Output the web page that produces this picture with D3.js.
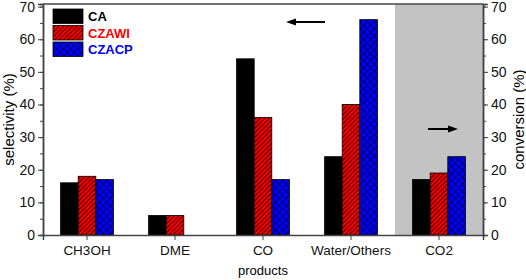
<!DOCTYPE html>
<html>
<head>
<meta charset="utf-8">
<script src="https://cdn.jsdelivr.net/npm/d3@7"></script>
<style>
  body { margin: 0; background: #fff; }
  text { font-family: "Liberation Sans", Arial, sans-serif; }
</style>
</head>
<body>
<div id="chart"></div>
<script>
const products = ["CH3OH", "DME", "CO", "Water/Others", "CO2"];
const seriesNames = ["CA", "CZAWI", "CZACP"];
const caValues = [16, 6, 54, 24, 17];
const czawiValues = [18, 6, 36, 40, 19];
const czacpValues = [17, 0, 17, 66, 24];
const yTicks = [0, 10, 20, 30, 40, 50, 60, 70];

const width = 526, height = 280;
const margin = { top: 4, right: 43, bottom: 45, left: 43 };
const plotW = width - margin.left - margin.right;
const plotH = height - margin.top - margin.bottom;

const seriesValues = { CA: caValues, CZAWI: czawiValues, CZACP: czacpValues };
const fills = { CA: "#000", CZAWI: "url(#hatch-red)", CZACP: "url(#hatch-blue)" };
const textColors = { CA: "#000", CZAWI: "#ff0000", CZACP: "#0000ff" };

const svg = d3.select("#chart").append("svg")
    .attr("width", width)
    .attr("height", height);

const defs = svg.append("defs");
const red = defs.append("pattern")
    .attr("id", "hatch-red")
    .attr("patternUnits", "userSpaceOnUse")
    .attr("width", 3.2).attr("height", 3.2)
    .attr("patternTransform", "rotate(45)");
red.append("rect").attr("width", 3.2).attr("height", 3.2).attr("fill", "#ff0000");
red.append("line").attr("x1", 1.6).attr("y1", 0).attr("x2", 1.6).attr("y2", 3.2)
    .attr("stroke", "#000").attr("stroke-width", 0.8);

const blue = defs.append("pattern")
    .attr("id", "hatch-blue")
    .attr("patternUnits", "userSpaceOnUse")
    .attr("width", 5).attr("height", 5)
    .attr("patternTransform", "rotate(45)");
blue.append("rect").attr("width", 5).attr("height", 5).attr("fill", "#0000ff");
blue.append("line").attr("x1", 2.5).attr("y1", 0).attr("x2", 2.5).attr("y2", 5)
    .attr("stroke", "#000").attr("stroke-width", 0.6);
blue.append("line").attr("x1", 0).attr("y1", 2.5).attr("x2", 5).attr("y2", 2.5)
    .attr("stroke", "#000").attr("stroke-width", 0.6);

const g = svg.append("g").attr("transform", `translate(${margin.left},${margin.top})`);

const x = d3.scaleBand().domain(products).range([0, plotW]).paddingInner(0.4).paddingOuter(0.2);
const xs = d3.scaleBand().domain(seriesNames).range([0, x.bandwidth()]);
const y = d3.scaleLinear().domain([0, 70.8]).range([plotH, 0]);

// gray conversion region
const grayStart = x("CO2") - x.step() * x.paddingInner() / 2;
g.append("rect")
    .attr("x", grayStart).attr("y", 0)
    .attr("width", plotW - grayStart).attr("height", plotH)
    .attr("fill", "#c3c3c3");

// bars
const groups = g.selectAll(".group").data(products).join("g")
    .attr("class", "group")
    .attr("transform", d => `translate(${x(d)},0)`);

groups.selectAll("rect")
    .data((d, i) => seriesNames.map(s => ({ s, v: seriesValues[s][i] })).filter(e => e.v > 0))
    .join("rect")
    .attr("x", d => xs(d.s))
    .attr("y", d => y(d.v))
    .attr("width", xs.bandwidth())
    .attr("height", d => y(0) - y(d.v))
    .attr("fill", d => fills[d.s])
    .attr("stroke", "#000")
    .attr("stroke-width", 0.8);

// axes
const axisColor = "#444";
const minor = d3.range(0, 71, 5);

const left = g.append("g").call(d3.axisLeft(y).tickValues(yTicks).tickSize(5).tickPadding(3));
const right = g.append("g").attr("transform", `translate(${plotW},0)`)
    .call(d3.axisRight(y).tickValues(yTicks).tickSize(5).tickPadding(3));
const leftMinor = g.append("g").call(d3.axisLeft(y).tickValues(minor).tickSize(3).tickFormat(""));
const rightMinor = g.append("g").attr("transform", `translate(${plotW},0)`)
    .call(d3.axisRight(y).tickValues(minor).tickSize(3).tickFormat(""));
const bottom = g.append("g").attr("transform", `translate(0,${plotH})`)
    .call(d3.axisBottom(x).tickSize(5).tickPadding(5));

[left, right, leftMinor, rightMinor, bottom].forEach(a => {
    a.select(".domain").attr("stroke", axisColor).attr("stroke-width", 1.5);
    a.selectAll(".tick line").attr("stroke", axisColor).attr("stroke-width", 1);
    a.selectAll("text").attr("font-size", 14).attr("fill", "#111")
        .attr("font-family", "Liberation Sans, Arial, sans-serif");
});
bottom.selectAll("text").attr("font-size", 13.5);

// top border
g.append("line").attr("x1", 0).attr("x2", plotW).attr("y1", 0).attr("y2", 0)
    .attr("stroke", axisColor).attr("stroke-width", 1.5);

// axis titles
svg.append("text")
    .attr("transform", `translate(14,${margin.top + plotH / 2}) rotate(-90)`)
    .attr("text-anchor", "middle")
    .attr("font-size", 15)
    .text("selectivity (%)");
svg.append("text")
    .attr("transform", `translate(524,${margin.top + plotH / 2}) rotate(-90)`)
    .attr("text-anchor", "middle")
    .attr("font-size", 15)
    .text("conversion (%)");
svg.append("text")
    .attr("x", margin.left + plotW / 2)
    .attr("y", 275)
    .attr("text-anchor", "middle")
    .attr("font-size", 13)
    .text("products");

// legend
const legend = g.selectAll(".legend").data(seriesNames).join("g")
    .attr("class", "legend")
    .attr("transform", (d, i) => `translate(10,${5 + i * 16.5})`);
legend.append("rect")
    .attr("width", 30).attr("height", 14.5)
    .attr("fill", d => fills[d])
    .attr("stroke", "#000").attr("stroke-width", 0.8);
legend.append("text")
    .attr("x", 35).attr("y", 12)
    .attr("font-size", 13).attr("font-weight", "bold")
    .attr("fill", d => textColors[d])
    .text(d => d);

// arrows
function arrow(x1, x2, yy) {
    const dir = Math.sign(x2 - x1);
    g.append("line").attr("x1", x1).attr("x2", x2 - dir * 8).attr("y1", yy).attr("y2", yy)
        .attr("stroke", "#000").attr("stroke-width", 2);
    g.append("path")
        .attr("d", `M${x2},${yy} L${x2 - dir * 10},${yy - 3.5} L${x2 - dir * 10},${yy + 3.5} Z`)
        .attr("fill", "#000");
}
arrow(325 - margin.left, 286 - margin.left, 22 - margin.top);
arrow(428 - margin.left, 458 - margin.left, 129 - margin.top);
</script>
</body>
</html>
